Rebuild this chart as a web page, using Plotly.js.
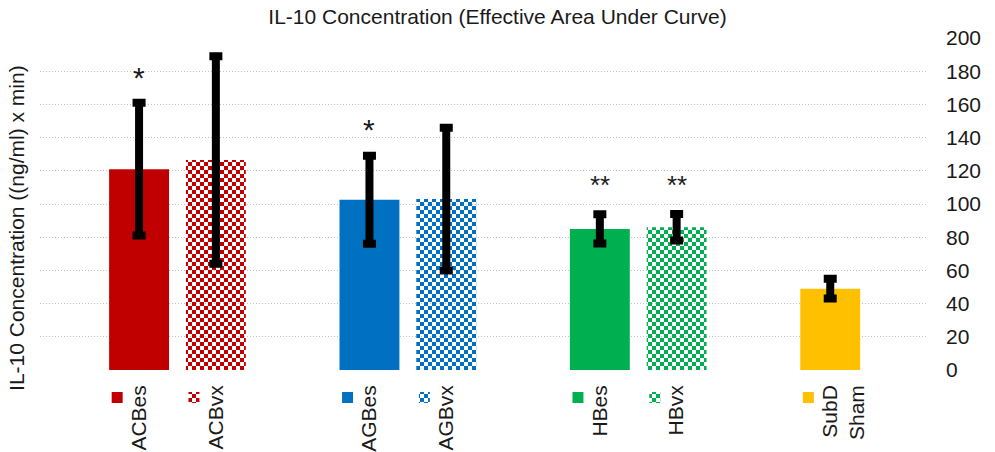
<!DOCTYPE html>
<html>
<head>
<meta charset="utf-8">
<script src="https://cdn.plot.ly/plotly-3.0.1.min.js"></script>
<style>html,body{margin:0;padding:0;background:#fff;}#chart{width:995px;height:452px;}</style>
</head>
<body>
<div id="chart"></div>
<script>
// ---- data ----
var categories = ['ACBes', 'ACBvx', 'AGBes', 'AGBvx', 'HBes', 'HBvx', ' <br>SubD<br>Sham'];
var slots      = [0, 1, 3, 4, 6, 7, 9];          // category slot positions (empty slots between groups)
var values     = [121, 126.5, 102.5, 103, 85, 86, 49];
var errors     = [40, 62.5, 26.5, 43, 8.8, 8, 6];
var colors     = ['#C00000', '#C00000', '#0070C0', '#0070C0', '#00B050', '#00B050', '#FFC000'];
var patterned  = [false, true, false, true, false, true, false];
var sigLabels  = ['*', '', '*', '', '**', '**', ''];
var sigHeights = [176.5, 0, 145, 0, 111.5, 111.5, 0];

// ---- styles ----
var FONT = 'Liberation Sans, Arial, sans-serif';
var TXT = '#1a1a1a';
var MAIN_BOTTOM = 0.1123;   // fraction of plot height used by the label-key strip
var shapes = patterned.map(function(p){ return p ? '.' : ''; });
var pattern = {
  shape: shapes,
  fgcolor: colors,
  bgcolor: patterned.map(function(p, i){ return p ? '#ffffff' : colors[i]; }),
  size: 8,
  solidity: 0.5,
  fillmode: 'replace'
};

var bars = {
  type: 'bar',
  x: slots,
  y: values,
  width: 0.78,
  marker: { color: colors, pattern: pattern, line: { width: 0 } },
  error_y: { type: 'data', array: errors, visible: true, color: '#000000', thickness: 8, width: 6.5 },
  hoverinfo: 'x+y',
  showlegend: false
};

// small legend keys drawn next to each category label (own strip axis, in pixel-like units)
var keyOffset = -0.285;
var keys = {
  type: 'bar',
  xaxis: 'x', yaxis: 'y2',
  x: slots.map(function(s){ return s + keyOffset; }),
  y: slots.map(function(){ return 11; }),
  base: slots.map(function(){ return 9; }),
  width: 0.143,
  marker: { color: colors, pattern: pattern, line: { width: 0 } },
  hoverinfo: 'skip',
  showlegend: false
};

var annotations = [];
sigLabels.forEach(function(t, i){
  if(!t) return;
  annotations.push({
    x: slots[i], y: sigHeights[i], xref: 'x', yref: 'y',
    text: t, showarrow: false, xanchor: 'center', yanchor: 'middle',
    font: { family: FONT, size: t.length > 1 ? 26 : 30, color: TXT }
  });
});
annotations.push({
  xref: 'paper', yref: 'paper', x: -0.026, y: 0.492,
  text: 'IL-10 Concentration ((ng/ml) x min)', textangle: -90,
  showarrow: false, xanchor: 'center', yanchor: 'middle',
  font: { family: FONT, size: 21, color: TXT }
});

var layout = {
  width: 995, height: 452,
  margin: { l: 40, r: 68, t: 38, b: 40 },
  paper_bgcolor: '#ffffff', plot_bgcolor: '#ffffff',
  barmode: 'overlay',
  title: {
    text: 'IL-10 Concentration (Effective Area Under Curve)',
    x: 0.5, xref: 'container', y: 0.9624, yref: 'container', yanchor: 'middle',
    font: { family: FONT, size: 21, color: TXT }
  },
  xaxis: {
    anchor: 'y',
    range: [-1.29, 10.26],
    tickvals: slots, ticktext: categories,
    tickangle: -90, ticks: '', ticklabelstandoff: 10,
    showgrid: false, zeroline: false, showline: false,
    tickfont: { family: FONT, size: 21, color: TXT },
    fixedrange: true
  },
  yaxis: {
    domain: [MAIN_BOTTOM, 1], anchor: 'x',
    side: 'right', range: [0, 200], dtick: 20,
    showgrid: true, gridcolor: '#bfbfbf', griddash: '1px,2px', gridwidth: 1,
    zeroline: false, showline: false, ticks: '', ticklabelstandoff: 18,
    tickfont: { family: FONT, size: 21, color: TXT },
    fixedrange: true
  },
  yaxis2: {
    domain: [0, MAIN_BOTTOM], anchor: 'x',
    range: [0, 42], visible: false, fixedrange: true
  },
  annotations: annotations,
  showlegend: false
};

Plotly.newPlot('chart', [bars, keys], layout, { displayModeBar: false, staticPlot: true }).then(function(){
  // turn Plotly's dot pattern tiles into a checkerboard
  var NS = 'http://www.w3.org/2000/svg';
  document.querySelectorAll('pattern').forEach(function(p){
    var c = p.querySelector('circle');
    if(!c) return;
    var w = parseFloat(p.getAttribute('width')) || 8;
    var h = parseFloat(p.getAttribute('height')) || 8;
    var fill = c.getAttribute('fill') || c.style.fill;
    var path = document.createElementNS(NS, 'path');
    var a = w / 2, b = h / 2;
    path.setAttribute('d', 'M0,0h' + a + 'v' + b + 'h-' + a + 'zM' + a + ',' + b + 'h' + a + 'v' + b + 'h-' + a + 'z');
    path.setAttribute('fill', fill);
    path.setAttribute('style', 'fill:' + fill + ';stroke:none');
    c.parentNode.replaceChild(path, c);
  });
});
</script>
</body>
</html>
